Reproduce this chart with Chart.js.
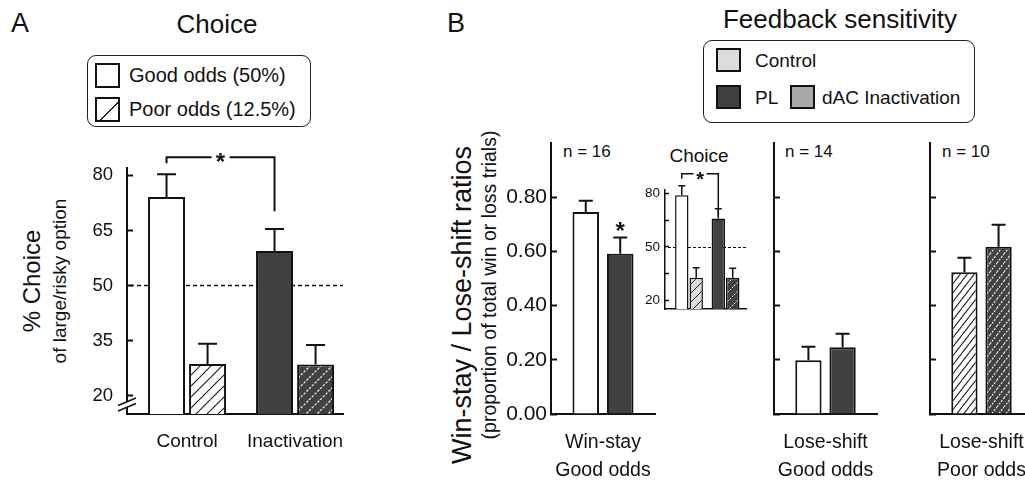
<!DOCTYPE html>
<html>
<head>
<meta charset="utf-8">
<script src="https://cdn.jsdelivr.net/npm/chart.js@4.4.0/dist/chart.umd.min.js"></script>
<style>
html,body{margin:0;padding:0;background:#fff;overflow:hidden;width:1025px;height:484px;}
body{position:relative;font-family:"Liberation Sans",Arial,sans-serif;color:#111;}
.t{position:absolute;white-space:nowrap;line-height:1;}
.c{text-align:center;}
.rot{position:absolute;white-space:nowrap;line-height:1;transform:translate(-50%,-50%) rotate(-90deg);}
canvas{position:absolute;}
.box{position:absolute;border:1.5px solid #222;border-radius:9px;box-sizing:border-box;}
.sw{position:absolute;border:2px solid #111;box-sizing:border-box;}
</style>
</head>
<body>
<!-- Panel A texts -->
<div class="t" style="left:11px;top:10px;font-size:27px;">A</div>
<div class="t c" style="left:117px;top:11px;width:200px;font-size:26px;">Choice</div>
<div class="box" style="left:87px;top:55px;width:224px;height:72px;"></div>
<div class="sw" style="left:95px;top:63px;width:25px;height:25px;background:#fff;"></div>
<div class="sw" style="left:95px;top:97px;width:25px;height:25px;background:#fff repeating-linear-gradient(135deg,transparent 0 16.6px,#222 16.6px 18px,transparent 18px 17.7px);"></div>
<div class="t" style="left:129px;top:65px;font-size:20px;">Good odds (50%)</div>
<div class="t" style="left:129px;top:99px;font-size:20px;">Poor odds (12.5%)</div>
<div class="rot" style="left:32px;top:281px;font-size:24px;">% Choice</div>
<div class="rot" style="left:59px;top:281px;font-size:19px;">of large/risky option</div>

<!-- Panel B texts -->
<div class="t" style="left:447px;top:10px;font-size:27px;">B</div>
<div class="t c" style="left:640px;top:6px;width:400px;font-size:26px;">Feedback sensitivity</div>
<div class="box" style="left:703px;top:40px;width:272px;height:83px;"></div>
<div class="sw" style="left:716px;top:48px;width:25px;height:24px;background:#dcdcdc;"></div>
<div class="sw" style="left:716px;top:85px;width:25px;height:24px;background:#414141;"></div>
<div class="sw" style="left:790px;top:85px;width:25px;height:24px;background:#a9a9a9;"></div>
<div class="t" style="left:755px;top:51px;font-size:19px;">Control</div>
<div class="t" style="left:755px;top:88px;font-size:19px;">PL</div>
<div class="t" style="left:822px;top:88px;font-size:19px;">dAC Inactivation</div>
<div class="rot" style="left:462px;top:305px;font-size:27px;">Win-stay / Lose-shift ratios</div>
<div class="rot" style="left:490px;top:285px;font-size:19.5px;">(proportion of total win or loss trials)</div>
<div class="t" style="left:563px;top:143px;font-size:17px;" id="n1"></div>
<div class="t" style="left:785px;top:143px;font-size:17px;" id="n2"></div>
<div class="t" style="left:942px;top:143px;font-size:17px;" id="n3"></div>
<div class="t c" style="left:639px;top:146px;width:120px;font-size:19px;">Choice</div>

<canvas id="cA" width="301" height="338" style="left:67px;top:136px;width:301px;height:338px;"></canvas>
<canvas id="cB1" width="184" height="366" style="left:491px;top:118px;width:184px;height:366px;"></canvas>
<canvas id="cB2" width="133" height="356" style="left:764px;top:128px;width:133px;height:356px;"></canvas>
<canvas id="cB3" width="133" height="356" style="left:920px;top:128px;width:133px;height:356px;"></canvas>
<canvas id="cIn" width="115" height="167" style="left:635px;top:160px;width:115px;height:167px;"></canvas>

<script>
// ---------------- DATA ----------------
// Panel A: Choice (% choice of large/risky option)
const categoriesA = ['Control', 'Inactivation'];
const goodOddsA = [74.1, 59.4];
const goodOddsErrA = [6.2, 6.0];
const poorOddsA = [28.6, 28.5];
const poorOddsErrA = [5.5, 5.3];
const ticksA = [20, 35, 50, 65, 80];

// Panel B inset: Choice (PL vs dAC)
const insetCategories = ['Control', 'Inactivation'];
const insetGood = [79.0, 66.0];
const insetGoodErr = [5.4, 5.4];
const insetPoor = [32.6, 32.6];
const insetPoorErr = [5.6, 5.3];
const insetTicks = [20, 35, 50, 65, 80];
const insetTickLabels = [20, 50, 80];

// Panel B: Win-stay / Lose-shift ratios
const ratioGroups = [['Win-stay', 'Good odds'], ['Lose-shift', 'Good odds'], ['Lose-shift', 'Poor odds']];
const ratioN = ['n = 16', 'n = 14', 'n = 10'];
const ratioControl = [0.745, 0.198, 0.523];
const ratioControlErr = [0.042, 0.050, 0.054];
const ratioInact = [0.591, 0.246, 0.617];
const ratioInactErr = [0.060, 0.050, 0.081];
const ratioTicks = [0, 0.2, 0.4, 0.6, 0.8];

// ---------------- STYLE ----------------
const INK = '#111';
const DARK = '#414141';
const LIGHT = '#dcdcdc';
const FONT = '"Liberation Sans", Arial, sans-serif';
Chart.defaults.font.family = FONT;
Chart.defaults.color = INK;

['n1','n2','n3'].forEach((id, i) => { document.getElementById(id).textContent = ratioN[i]; });

function hatch(bg, fg, w, h, lw, dash) {
  const c = document.createElement('canvas');
  c.width = w; c.height = h;
  const g = c.getContext('2d');
  g.fillStyle = bg; g.fillRect(0, 0, w, h);
  g.strokeStyle = fg; g.lineWidth = lw;
  if (dash) g.setLineDash(dash);
  for (let k = -1; k <= 1; k++) {
    g.beginPath(); g.moveTo(k * w, h); g.lineTo(k * w + w, 0); g.stroke();
  }
  return g.createPattern(c, 'repeat');
}

// ---------------- PLUGINS ----------------
const errorBars = {
  id: 'errorBars',
  afterDatasetsDraw(chart, args, o) {
    const ctx = chart.ctx, ys = chart.scales.y;
    ctx.save();
    ctx.strokeStyle = INK; ctx.lineWidth = o.lineWidth || 2;
    chart.data.datasets.forEach((ds, di) => {
      if (!ds.errors) return;
      chart.getDatasetMeta(di).data.forEach((el, i) => {
        const raw = ds.data[i];
        const v = (typeof raw === 'object') ? raw.y : raw;
        const top = ys.getPixelForValue(v + ds.errors[i]);
        const h = (o.cap || 14) / 2;
        ctx.beginPath();
        ctx.moveTo(el.x, el.y); ctx.lineTo(el.x, top);
        ctx.moveTo(el.x - h, top); ctx.lineTo(el.x + h, top);
        ctx.stroke();
      });
    });
    ctx.restore();
  }
};

function drawStar(ctx, x, y, size) {
  ctx.save();
  ctx.fillStyle = INK;
  ctx.font = 'bold ' + size + 'px ' + FONT;
  ctx.textAlign = 'center';
  ctx.textBaseline = 'middle';
  ctx.fillText('*', x, y + size * 0.23);
  ctx.restore();
}

const annot = {
  id: 'annot',
  beforeDatasetsDraw(chart, args, o) {
    if (o.refLine == null) return;
    const ctx = chart.ctx, ca = chart.chartArea;
    const y = Math.round(chart.scales.y.getPixelForValue(o.refLine)) + 0.5;
    ctx.save();
    ctx.strokeStyle = INK; ctx.lineWidth = o.refWidth || 1.5;
    ctx.setLineDash(o.refDash || [4, 3]);
    ctx.beginPath(); ctx.moveTo(ca.left + 3, y); ctx.lineTo(ca.right, y); ctx.stroke();
    ctx.restore();
  },
  afterDatasetsDraw(chart, args, o) {
    const ctx = chart.ctx, ys = chart.scales.y;
    if (o.bracket) {
      const b = o.bracket;
      const xl = chart.getDatasetMeta(b.from[0]).data[b.from[1]].x;
      const xr = chart.getDatasetMeta(b.to[0]).data[b.to[1]].x;
      const yt = ys.getPixelForValue(b.top);
      const yl = ys.getPixelForValue(b.leftEnd);
      const yr = ys.getPixelForValue(b.rightEnd);
      const xm = (xl + xr) / 2;
      ctx.save();
      ctx.strokeStyle = INK; ctx.lineWidth = b.lineWidth;
      ctx.beginPath();
      ctx.moveTo(xl, yl); ctx.lineTo(xl, yt); ctx.lineTo(xm - b.gap, yt);
      ctx.moveTo(xm + b.gap, yt); ctx.lineTo(xr, yt); ctx.lineTo(xr, yr);
      ctx.stroke();
      ctx.restore();
      drawStar(ctx, xm, yt + (b.starDy || 0), b.starSize);
    }
    if (o.star) {
      const s = o.star;
      const ds = chart.data.datasets[s.ds];
      const el = chart.getDatasetMeta(s.ds).data[s.i];
      const raw = ds.data[s.i];
      const v = (typeof raw === 'object') ? raw.y : raw;
      const y = ys.getPixelForValue(v + ds.errors[s.i]) - s.above;
      drawStar(ctx, el.x, y, s.size);
    }
  },
  afterDraw(chart, args, o) {
    if (o.breakAt == null) return;
    const ctx = chart.ctx, ca = chart.chartArea;
    const x = ca.left, y = chart.scales.y.getPixelForValue(o.breakAt);
    ctx.save();
    ctx.fillStyle = '#fff';
    ctx.beginPath();
    ctx.moveTo(x - 3, y + 3.5); ctx.lineTo(x + 3, y + 1); ctx.lineTo(x + 3, y - 4); ctx.lineTo(x - 3, y - 1.5);
    ctx.closePath(); ctx.fill();
    ctx.strokeStyle = INK; ctx.lineWidth = 1.5;
    ctx.beginPath();
    ctx.moveTo(x - 9, y + 1); ctx.lineTo(x + 9, y - 6.5);
    ctx.moveTo(x - 9, y + 6.5); ctx.lineTo(x + 9, y - 1);
    ctx.stroke();
    ctx.restore();
  }
};

Chart.register(errorBars, annot);

function yScale(min, max, tickVals, width, tickOpts) {
  return {
    min: min, max: max,
    afterBuildTicks: s => { s.ticks = tickVals.map(v => ({ value: v })); },
    afterFit: s => { s.width = width; },
    grid: { drawOnChartArea: false, drawTicks: true, tickLength: tickOpts.len, tickWidth: tickOpts.lw, tickColor: INK },
    border: { display: true, color: INK, width: tickOpts.lw },
    ticks: tickOpts.ticks
  };
}

const common = {
  responsive: false,
  animation: false,
  events: [],
  plugins: { legend: { display: false }, tooltip: { enabled: false } }
};

// ---------------- PANEL A ----------------
new Chart(document.getElementById('cA'), {
  type: 'bar',
  data: {
    datasets: [
      { label: 'Good odds (50%)', data: goodOddsA.map((v, i) => ({ x: i, y: v })), errors: goodOddsErrA,
        backgroundColor: ['#ffffff', DARK], borderColor: INK, borderWidth: 2, borderSkipped: 'start' },
      { label: 'Poor odds (12.5%)', data: poorOddsA.map((v, i) => ({ x: i, y: v })), errors: poorOddsErrA,
        backgroundColor: [hatch('#ffffff', '#222', 11, 11, 1.2), hatch(DARK, '#f0f0f0', 11, 11, 1.2, [2.5, 1.5])],
        borderColor: INK, borderWidth: 2, borderSkipped: 'start' }
    ]
  },
  options: Object.assign({}, common, {
    layout: { padding: { top: 32, right: 25, bottom: 0, left: 0 } },
    datasets: { bar: { categoryPercentage: 0.76, barPercentage: 0.9 } },
    plugins: Object.assign({}, common.plugins, {
      errorBars: { cap: 19, lineWidth: 2 },
      annot: {
        refLine: 50, refWidth: 1.5, refDash: [4, 3],
        bracket: { from: [0, 0], to: [0, 1], top: 84.9, leftEnd: 83.3, rightEnd: 70.2, gap: 9, lineWidth: 2, starSize: 24, starDy: 1 },
        breakAt: 17.6
      }
    }),
    scales: {
      x: {
        type: 'linear', min: -0.556, max: 1.444, offset: false,
        afterBuildTicks: s => { s.ticks = categoriesA.map((c, i) => ({ value: i })); },
        afterFit: s => { s.height = 60; },
        grid: { display: false },
        border: { display: true, color: INK, width: 2 },
        ticks: { callback: v => categoriesA[v], font: { size: 19 }, color: INK, padding: 8, maxRotation: 0, autoSkip: false }
      },
      y: yScale(15, 82, ticksA, 60, { len: -6, lw: 2, ticks: { font: { size: 18.5 }, color: INK, padding: 20 } })
    }
  })
});

// ---------------- PANEL B ratio charts ----------------
function ratioChart(id, idx, showLabels, ctrlFill, inactFill, star) {
  return new Chart(document.getElementById(id), {
    type: 'bar',
    data: {
      labels: [ratioGroups[idx]],
      datasets: [
        { label: 'Control', data: [ratioControl[idx]], errors: [ratioControlErr[idx]],
          backgroundColor: ctrlFill, borderColor: INK, borderWidth: 2 },
        { label: 'PL Inactivation', data: [ratioInact[idx]], errors: [ratioInactErr[idx]],
          backgroundColor: inactFill, borderColor: INK, borderWidth: 2 }
      ]
    },
    options: Object.assign({}, common, {
      layout: { padding: { top: showLabels ? 25 : 15, right: 20, bottom: 0, left: 0 } },
      datasets: { bar: { categoryPercentage: 0.663, barPercentage: 0.77 } },
      plugins: Object.assign({}, common.plugins, {
        errorBars: { cap: 14, lineWidth: 2 },
        annot: star ? { star: { ds: 1, i: 0, above: 10.5, size: 24 } } : {}
      }),
      scales: {
        x: {
          afterFit: s => { s.height = 70; },
          grid: { display: false },
          border: { display: true, color: INK, width: 2 },
          ticks: { font: { size: 19.5, lineHeight: 1.47 }, color: INK, padding: 6, maxRotation: 0 }
        },
        y: yScale(0, 1.0, ratioTicks, showLabels ? 60 : 10, {
          len: -6, lw: 2,
          ticks: showLabels
            ? { font: { size: 21 }, color: INK, padding: 10, callback: v => v.toFixed(2) }
            : { display: false, padding: 0 }
        })
      }
    })
  });
}

ratioChart('cB1', 0, true, '#ffffff', DARK, true);
ratioChart('cB2', 1, false, '#ffffff', DARK, false);
ratioChart('cB3', 2, false, hatch('#ffffff', '#222', 7, 9, 1.1), hatch(DARK, '#f0f0f0', 7, 9, 1.1, [2, 1.3]), false);

// ---------------- PANEL B inset: Choice ----------------
new Chart(document.getElementById('cIn'), {
  type: 'bar',
  data: {
    datasets: [
      { label: 'Good odds', data: insetGood.map((v, i) => ({ x: i, y: v })), errors: insetGoodErr,
        backgroundColor: ['#ffffff', DARK], borderColor: INK, borderWidth: 1.5 },
      { label: 'Poor odds', data: insetPoor.map((v, i) => ({ x: i, y: v })), errors: insetPoorErr,
        backgroundColor: [hatch(LIGHT, '#222', 9, 9, 1), hatch(DARK, '#f0f0f0', 9, 9, 1, [2, 1.3])],
        borderColor: INK, borderWidth: 1.5 }
    ]
  },
  options: Object.assign({}, common, {
    layout: { padding: { top: 30, right: 4, bottom: 16, left: 0 } },
    datasets: { bar: { categoryPercentage: 0.79, barPercentage: 0.93 } },
    plugins: Object.assign({}, common.plugins, {
      errorBars: { cap: 7, lineWidth: 1.5 },
      annot: {
        refLine: 50, refWidth: 1.2, refDash: [3, 2],
        bracket: { from: [0, 0], to: [0, 1], top: 91.2, leftEnd: 88.4, rightEnd: 67.6, gap: 6.5, lineWidth: 1.5, starSize: 20, starDy: 2 }
      }
    }),
    scales: {
      x: {
        type: 'linear', min: -0.6575, max: 1.5616, offset: false,
        afterBuildTicks: s => { s.ticks = insetCategories.map((c, i) => ({ value: i })); },
        afterFit: s => { s.height = 2; },
        grid: { display: false },
        border: { display: true, color: INK, width: 1.5 },
        ticks: { display: false }
      },
      y: yScale(15, 82, insetTicks, 30, { len: -4, lw: 1.5,
        ticks: { font: { size: 13.5 }, color: INK, padding: 9,
                 callback: v => insetTickLabels.includes(v) ? String(v) : '' } })
    }
  })
});
</script>
</body>
</html>
